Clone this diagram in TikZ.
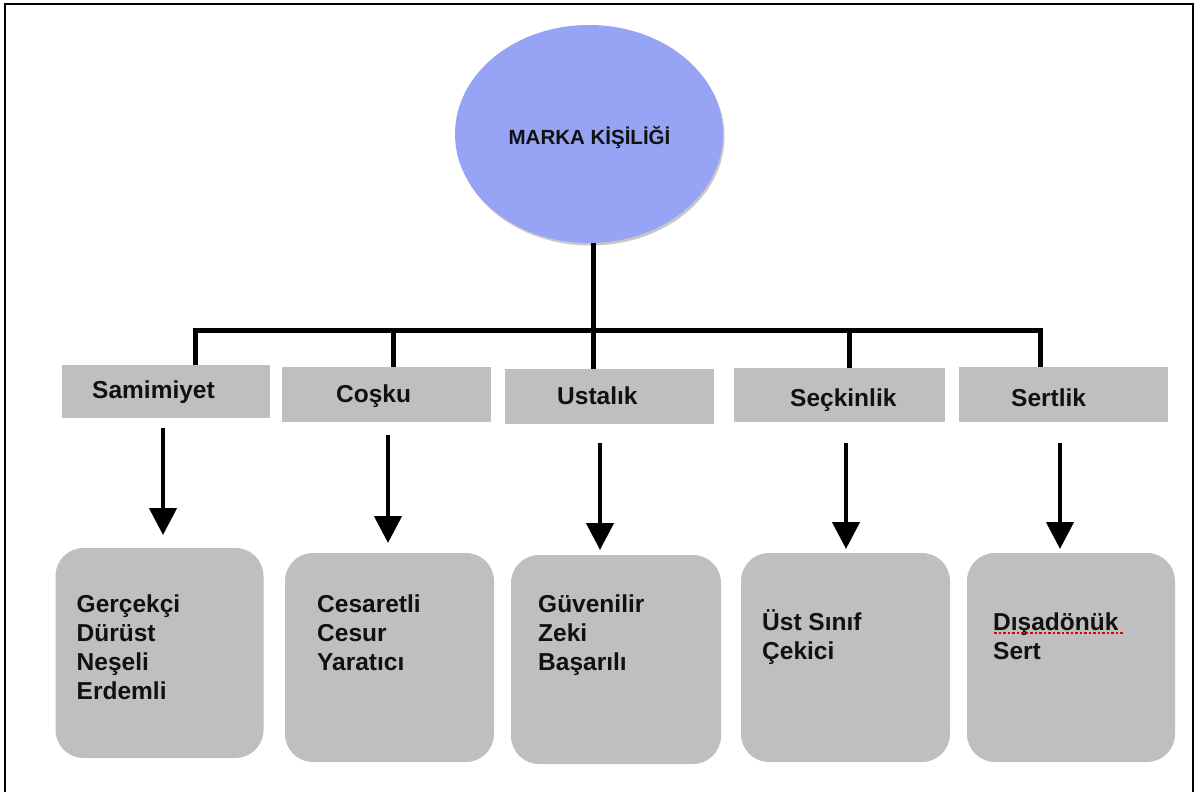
\documentclass[tikz,border=0pt]{standalone}
\usepackage{fontspec}
\setmainfont{Liberation Sans}
\usetikzlibrary{shapes.geometric,arrows.meta,shadows}
\definecolor{boxgray}{RGB}{191,191,191}
\definecolor{rootblue}{RGB}{151,163,245}
\definecolor{inkblack}{RGB}{17,17,17}
\begin{document}
\begin{tikzpicture}[x=1pt,y=-1pt,
  conn/.style={line width=5pt,draw=black,line join=miter},
  arr/.style={line width=4.5pt,draw=black,-{Triangle[length=27pt,width=27pt]}},
  lbl/.style={rectangle,fill=boxgray,draw=none,inner sep=0pt},
  card/.style={rectangle,rounded corners=28pt,fill=boxgray,draw=none,inner sep=0pt,minimum width=209pt,minimum height=209pt},
  txt/.style={inner sep=0pt,text=inkblack,font=\fontsize{24.5}{29}\selectfont\bfseries},
  listtxt/.style={txt,anchor=north west,align=left},
  frame/.style={line width=2.5pt,draw=black}
]
\useasboundingbox (0,0) rectangle (1195,792);
\fill[white] (0,0) rectangle (1195,792);
% outer frame (open at the bottom edge)
\draw[frame] (5,792) -- (5,4) -- (1193,4) -- (1193,792);

% root
\node[ellipse,fill=rootblue,draw=none,minimum width=268pt,minimum height=218pt,inner sep=0pt,
      drop shadow={shadow xshift=1.5pt,shadow yshift=-2.5pt,opacity=0.22,fill=black}] (root) at (589,134) {};
\node[txt,anchor=base,font=\fontsize{20.5}{24}\selectfont\bfseries] (roottxt) at (589.5,144) {MARKA KİŞİLİĞİ};

% category label boxes
\node[lbl,minimum width=208pt,minimum height=53pt] (s1) at (166,391.5) {};
\node[lbl,minimum width=209pt,minimum height=55pt] (s2) at (386.5,394.5) {};
\node[lbl,minimum width=209pt,minimum height=55pt] (s3) at (609.5,396.5) {};
\node[lbl,minimum width=211pt,minimum height=54pt] (s4) at (839.5,395) {};
\node[lbl,minimum width=209pt,minimum height=55pt] (s5) at (1063.5,394.5) {};
\node[txt,anchor=base west] (t1) at (92,398) {Samimiyet};
\node[txt,anchor=base west] (t2) at (336,402) {Coşku};
\node[txt,anchor=base west] (t3) at (557,404) {Ustalık};
\node[txt,anchor=base west] (t4) at (790,406) {Seçkinlik};
\node[txt,anchor=base west] (t5) at (1011,406) {Sertlik};

% bus
\coordinate (hub) at (593,330);
\coordinate (c1) at (195,330);
\coordinate (c2) at (393,330);
\coordinate (c3) at (593,330);
\coordinate (c4) at (849,330);
\coordinate (c5) at (1040,330);
\draw[conn] (root.south -| hub) -- (hub);
\draw[conn] (c1 |- s1.north) -- (c1) -- (c5) -- (c5 |- s5.north);
\draw[conn] (c2) -- (c2 |- s2.north);
\draw[conn] (c3) -- (c3 |- s3.north);
\draw[conn] (c4) -- (c4 |- s4.north);

% trait cards
\node[card,minimum width=208pt,minimum height=210pt] (b1) at (159.5,653) {};
\node[card] (b2) at (389.5,657.5) {};
\node[card,minimum width=210pt] (b3) at (616,659.5) {};
\node[card] (b4) at (845.5,657.5) {};
\node[card,minimum width=208pt] (b5) at (1071,657.5) {};

% arrows
\coordinate (a1s) at (163,428);  \coordinate (a1e) at (163,535);
\coordinate (a2s) at (388,435);  \coordinate (a2e) at (388,543);
\coordinate (a3s) at (600,443);  \coordinate (a3e) at (600,550);
\coordinate (a4s) at (846,443);  \coordinate (a4e) at (846,549);
\coordinate (a5s) at (1060,443); \coordinate (a5e) at (1060,549);
\draw[arr] (a1s) -- (a1e);
\draw[arr] (a2s) -- (a2e);
\draw[arr] (a3s) -- (a3e);
\draw[arr] (a4s) -- (a4e);
\draw[arr] (a5s) -- (a5e);

% card texts
\node[listtxt] (l1) at (76.5,591.7) {\strut Gerçekçi\\Dürüst\\Neşeli\\Erdemli};
\node[listtxt] (l2) at (317,591.7) {\strut Cesaretli\\Cesur\\Yaratıcı};
\node[listtxt] (l3) at (538,591.7) {\strut Güvenilir\\Zeki\\Başarılı};
\node[listtxt] (l4) at (762,609.7) {\strut Üst Sınıf\\Çekici};
\node[listtxt] (l5) at (993,609.7) {\strut Dışadönük\\Sert};
% spell-check underline
\draw[red!85!black,line width=2.4pt,dash pattern=on 2.5pt off 2pt] (994,633) -- (1124,633);
\end{tikzpicture}
\end{document}
